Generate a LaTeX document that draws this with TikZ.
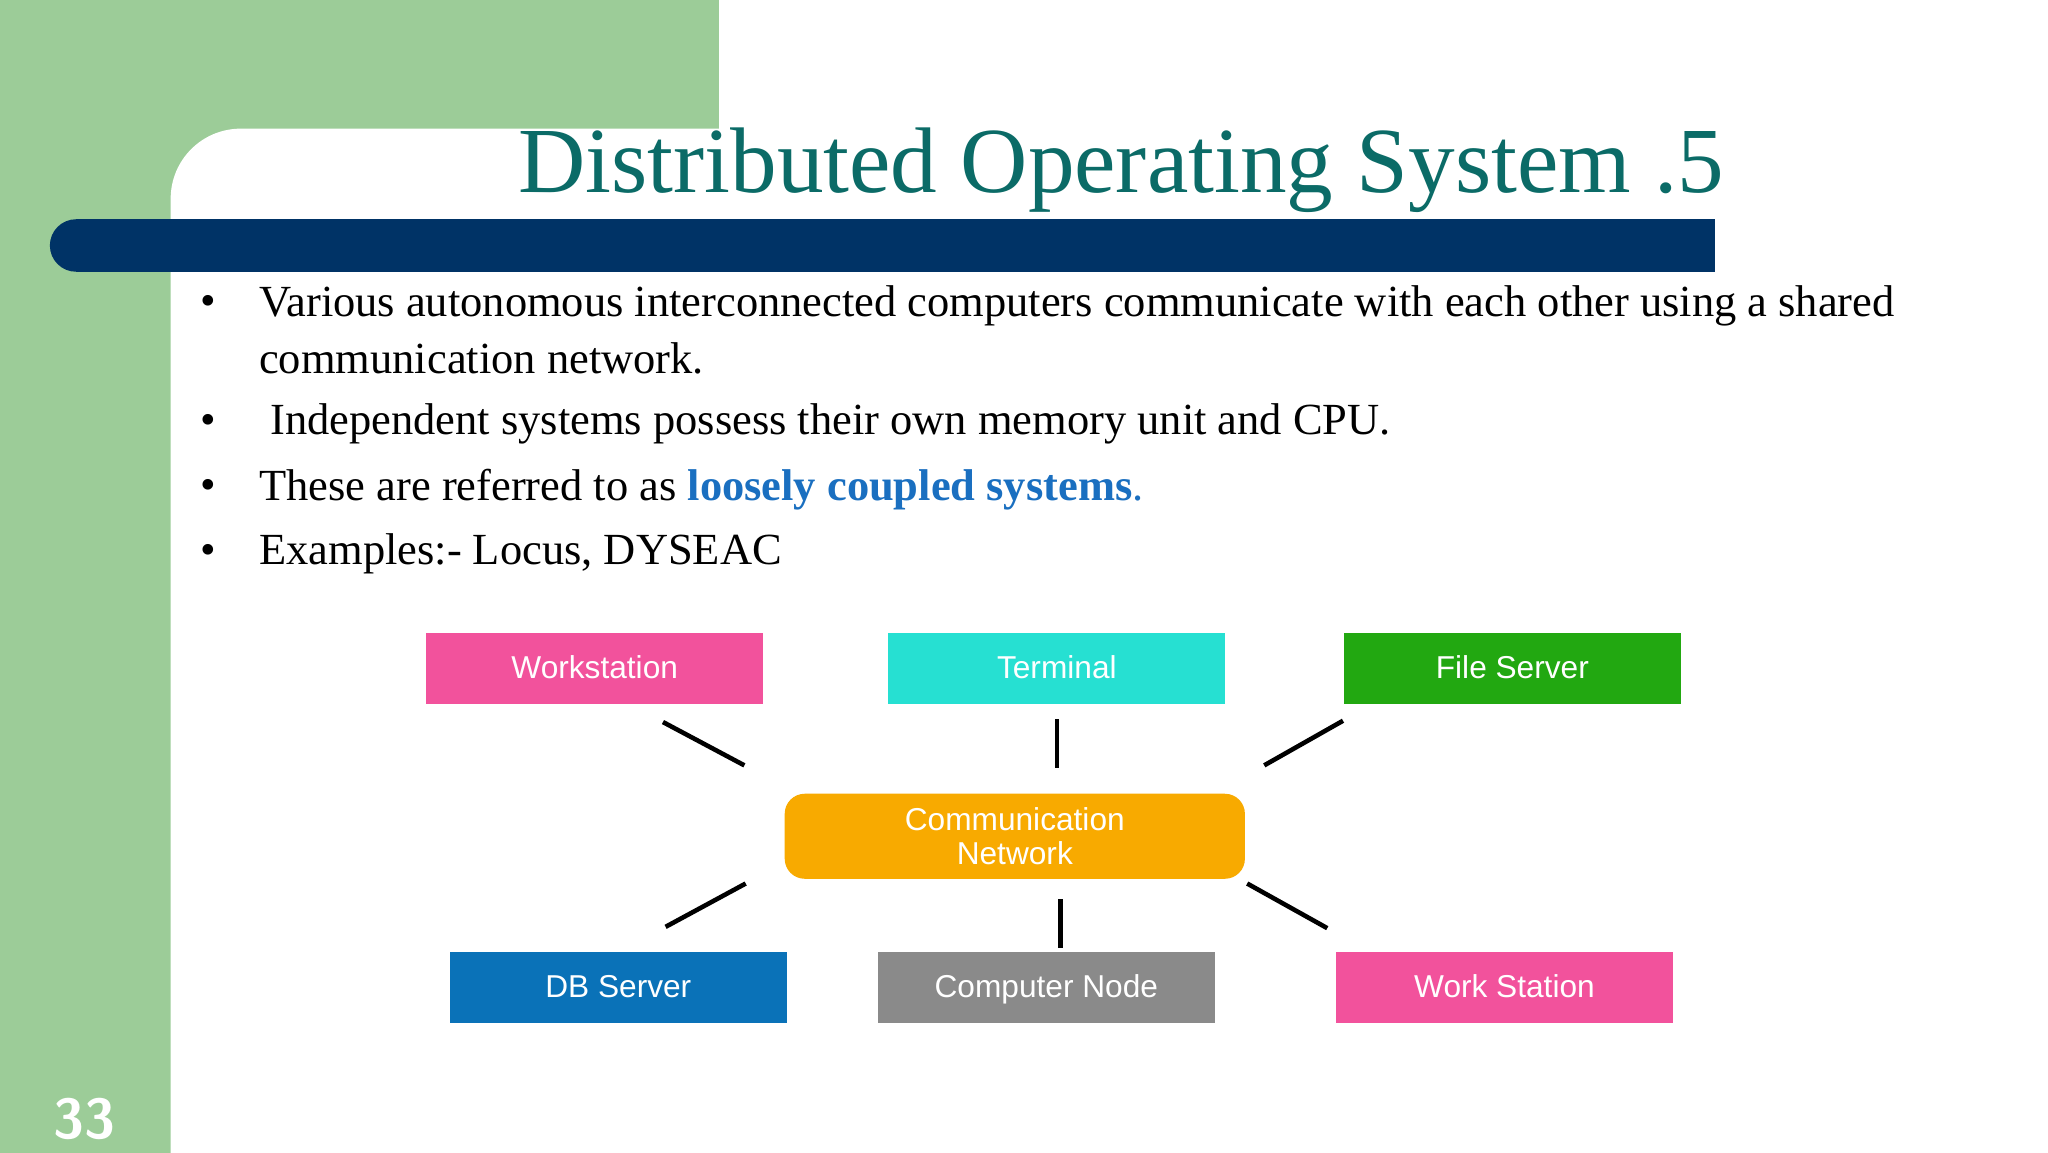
\documentclass[tikz,border=0pt]{standalone}
\usepackage{fontspec}
\setmainfont{Liberation Serif}
\newfontfamily\boxfont{Liberation Sans}
\usetikzlibrary{positioning}
\definecolor{slidegreen}{HTML}{9CCC98}
\definecolor{navy}{HTML}{003366}
\definecolor{titleteal}{HTML}{0B6B67}
\definecolor{linkblue}{HTML}{1A6FC0}
\definecolor{pinkbox}{HTML}{F2529C}
\definecolor{cyanbox}{HTML}{26E0D2}
\definecolor{greenbox}{HTML}{22A811}
\definecolor{orangebox}{HTML}{F8AA00}
\definecolor{bluebox}{HTML}{0A72B8}
\definecolor{graybox}{HTML}{8A8A8A}
\tikzset{
  box/.style={rectangle, minimum width=3.37cm, minimum height=0.71cm, text=white, text height=1.6ex, text depth=0.3ex, font=\boxfont\fontsize{9}{10}\selectfont, align=center},
  link/.style={line width=1.3pt, draw=black},
  bullet/.style={anchor=west, font=\fontsize{12.65}{15}\selectfont},
}
\begin{document}
\begin{tikzpicture}[x=0.01313cm, y=-0.01313cm]
  \useasboundingbox (0,0) rectangle (1560,878);
  % background
  \fill[white] (0,0) rectangle (1560,878);
  \fill[slidegreen] (0,0) rectangle (548,98);
  \fill[slidegreen] (0,0) rectangle (250,878);
  \fill[white] (130,900) [rounded corners=0.7cm] -- (130,98) [sharp corners] -- (1600,98) -- (1600,900) -- cycle;
  \fill[navy] (58,167) rectangle (1306,207);
  \fill[navy] (58,187) circle[radius=0.2626cm];
  \node[text=white, font=\sffamily\bfseries\fontsize{16}{18}\selectfont] (page) at (64,852) {33};
  % title
  \node[text=titleteal, font=\fontsize{26.5}{30}\selectfont, anchor=base] (title) at (854,147) {Distributed Operating System .5};
  % bullets
  \foreach \y in {233,323,373,422}
    \node[bullet] at (143,\y) {\textbullet};
  \node[bullet] (b1) at (188,233) {Various autonomous interconnected computers communicate with each other using a shared};
  \node[bullet] (b1b) at (188,273) {communication network.};
  \node[bullet] (b2) at (188,323) {\ Independent systems possess their own memory unit and CPU.};
  \node[bullet] (b3) at (188,373) {These are referred to as \textcolor{linkblue}{\textbf{loosely coupled systems}.}};
  \node[bullet] (b4) at (188,422) {Examples:- Locus, DYSEAC};
  % diagram
  \node[box, fill=pinkbox] (workstation) at (453,509) {Workstation};
  \node[box, fill=cyanbox] (terminal) at (805,509) {Terminal};
  \node[box, fill=greenbox] (file server) at (1152,509) {File Server};
  \node[box, fill=orangebox, minimum width=4.6cm, minimum height=0.85cm, rounded corners=0.2cm, text height=, text depth=, font=\boxfont\fontsize{9}{9.5}\selectfont] (network) at (773,637) {Communication\\Network};
  \node[box, fill=bluebox] (db server) at (471,752) {DB Server};
  \node[box, fill=graybox] (computer node) at (797,752) {Computer Node};
  \node[box, fill=pinkbox] (work station) at (1146,752) {Work Station};
  \coordinate (c1) at (505,550); \coordinate (d1) at (567,583);
  \coordinate (c2) at (805,548); \coordinate (d2) at (805,585);
  \coordinate (c3) at (1023,549); \coordinate (d3) at (963,583);
  \coordinate (c4) at (507,706); \coordinate (d4) at (568,673);
  \coordinate (c5) at (808,722); \coordinate (d5) at (808,685);
  \coordinate (c6) at (1011,707); \coordinate (d6) at (950,673);
  \foreach \i in {1,...,6}
    \draw[link] (c\i) -- (d\i);
\end{tikzpicture}
\end{document}
